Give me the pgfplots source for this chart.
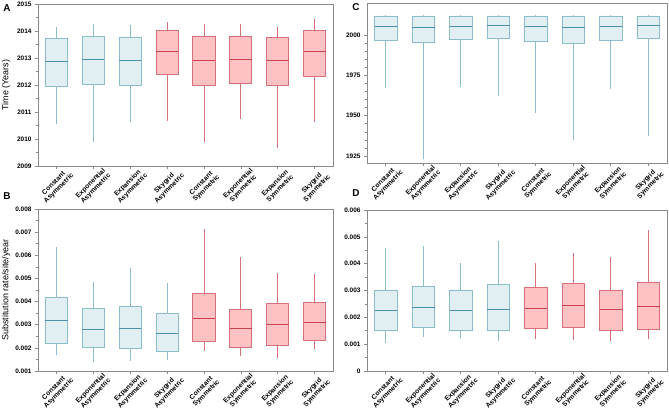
\documentclass[border=0pt]{standalone}
\usepackage{pgfplots}
\pgfplotsset{compat=1.18}
\usepackage{fontspec}
\setmainfont{Liberation Sans}
\definecolor{bfill}{HTML}{E1EEF2}
\definecolor{bedge}{HTML}{8BBCCB}
\definecolor{bmed}{HTML}{4A90A8}
\definecolor{rfill}{HTML}{FFC2C4}
\definecolor{redge}{HTML}{D8707A}
\definecolor{rmed}{HTML}{C84050}
\definecolor{axgray}{HTML}{8A8A8A}
\pgfplotsset{
  myax/.style={scale only axis, xmin=-0.5, xmax=7.5, no markers,
    xtick={0,...,7},
    xticklabels={Constant\\Asymmetric,Exponential\\Asymmetric,Expansion\\Asymmetric,Skygrid\\Asymmetric,Constant\\Symmetric,Exponential\\Symmetric,Expansion\\Symmetric,Skygrid\\Symmetric},
    xticklabel style={yshift=-17bp, rotate=45, anchor=center, align=center, font=\bfseries\fontsize{6.8}{7.2}\selectfont, inner sep=1pt},
    yticklabel style={font=\bfseries\fontsize{6.5}{7}\selectfont},
    /pgf/number format/assume math mode=true,
    axis line style={axgray, line width=0.7pt},
    tick style={axgray, line width=0.6pt},
    tick align=outside, major tick length=3bp, minor tick length=1.6bp,
    xtick pos=lower, ytick pos=left,
    scaled y ticks=false,
    ylabel style={font=\fontsize{9}{10}\selectfont, at={(axis description cs:-0.108,0.5)}, anchor=center},
  },
}
% #1 pos, #2 b/r, #3 lower whisker, #4 q1, #5 median, #6 q3, #7 upper whisker
\newcommand{\bx}[7]{%
  \pgfmathsetmacro\xl{#1-0.3}\pgfmathsetmacro\xr{#1+0.3}%
  \addplot[#2edge, line width=0.8pt, forget plot] coordinates {(#1,#3) (#1,#4)};
  \addplot[#2edge, line width=0.8pt, forget plot] coordinates {(#1,#6) (#1,#7)};
  \addplot[draw=#2edge, fill=#2fill, line width=0.8pt, line cap=rect, forget plot] coordinates {(\xl,#4) (\xr,#4) (\xr,#6) (\xl,#6) (\xl,#4)};
  \addplot[#2med, line width=1.1pt, forget plot] coordinates {(\xl,#5) (\xr,#5)};
}
\begin{document}
\begin{tikzpicture}
\path[use as bounding box] (0,0) rectangle (669bp,411bp);
% Panel A
\begin{axis}[myax, width=295bp, height=162bp, at={(38bp,245bp)}, anchor=south west,
  ymin=2009, ymax=2015, ytick={2009,2010,2011,2012,2013,2014,2015}, minor y tick num=1,
  yticklabel style={/pgf/number format/1000 sep={}},
  ylabel={Time (Years)}]
\bx{0}{b}{2010.54}{2011.96}{2012.88}{2013.73}{2014.16}
\bx{1}{b}{2009.90}{2012.02}{2012.95}{2013.81}{2014.26}
\bx{2}{b}{2010.63}{2011.98}{2012.91}{2013.76}{2014.21}
\bx{3}{r}{2010.67}{2012.39}{2013.24}{2014.02}{2014.33}
\bx{4}{r}{2009.88}{2011.97}{2012.91}{2013.80}{2014.26}
\bx{5}{r}{2010.74}{2012.05}{2012.95}{2013.80}{2014.26}
\bx{6}{r}{2009.67}{2011.98}{2012.91}{2013.76}{2014.13}
\bx{7}{r}{2010.63}{2012.33}{2013.24}{2014.01}{2014.43}
\end{axis}
% Panel C
\begin{axis}[myax, width=300bp, height=160bp, at={(367bp,248bp)}, anchor=south west,
  ymin=1920.7, ymax=2019.8, ytick={1925,1950,1975,2000}, minor y tick num=4,
  yticklabel style={/pgf/number format/1000 sep={}}]
\bx{0}{b}{1967.4}{1996.7}{2005.4}{2011.8}{2012.4}
\bx{1}{b}{1922.9}{1995.5}{2004.8}{2011.8}{2012.6}
\bx{2}{b}{1967.6}{1997.5}{2005.4}{2011.8}{2012.4}
\bx{3}{b}{1962.4}{1997.9}{2005.8}{2011.8}{2012.4}
\bx{4}{b}{1951.9}{1996.3}{2005.2}{2011.8}{2012.4}
\bx{5}{b}{1934.7}{1994.8}{2004.5}{2011.8}{2012.6}
\bx{6}{b}{1966.3}{1996.7}{2005.4}{2011.8}{2012.4}
\bx{7}{b}{1937.4}{1997.9}{2005.8}{2011.8}{2012.4}
\end{axis}
% Panel B
\begin{axis}[myax, width=295bp, height=162bp, at={(38bp,40bp)}, anchor=south west,
  ymin=0.001, ymax=0.008, ytick={0.001,0.002,0.003,0.004,0.005,0.006,0.007,0.008},
  yticklabels={0.001,0.002,0.003,0.004,0.005,0.006,0.007,0.008}, minor y tick num=1,
  ylabel={Substitution rate/site/year}]
\bx{0}{b}{0.00168}{0.00220}{0.00317}{0.00418}{0.00636}
\bx{1}{b}{0.00139}{0.00200}{0.00280}{0.00369}{0.00486}
\bx{2}{b}{0.00144}{0.00197}{0.00285}{0.00380}{0.00544}
\bx{3}{b}{0.00149}{0.00185}{0.00262}{0.00347}{0.00482}
\bx{4}{r}{0.00186}{0.00228}{0.00327}{0.00435}{0.00715}
\bx{5}{r}{0.00163}{0.00200}{0.00285}{0.00366}{0.00592}
\bx{6}{r}{0.00156}{0.00210}{0.00300}{0.00392}{0.00524}
\bx{7}{r}{0.00197}{0.00233}{0.00309}{0.00396}{0.00518}
\end{axis}
% Panel D
\begin{axis}[myax, width=300bp, height=161bp, at={(367bp,40bp)}, anchor=south west,
  ymin=0, ymax=0.006, ytick={0,0.001,0.002,0.003,0.004,0.005,0.006},
  yticklabels={0,0.001,0.002,0.003,0.004,0.005,0.006}, minor y tick num=1]
\bx{0}{b}{0.00104}{0.00150}{0.00225}{0.00302}{0.00459}
\bx{1}{b}{0.00128}{0.00163}{0.00237}{0.00316}{0.00467}
\bx{2}{b}{0.00123}{0.00152}{0.00225}{0.00302}{0.00402}
\bx{3}{b}{0.00113}{0.00150}{0.00230}{0.00322}{0.00485}
\bx{4}{r}{0.00118}{0.00158}{0.00234}{0.00311}{0.00402}
\bx{5}{r}{0.00116}{0.00164}{0.00243}{0.00325}{0.00441}
\bx{6}{r}{0.00112}{0.00150}{0.00228}{0.00302}{0.00426}
\bx{7}{r}{0.00118}{0.00154}{0.00240}{0.00332}{0.00525}
\end{axis}
\node[font=\bfseries\fontsize{10}{12}\selectfont] at (7bp,403bp) {A};
\node[font=\bfseries\fontsize{10}{12}\selectfont] at (7bp,215bp) {B};
\node[font=\bfseries\fontsize{10}{12}\selectfont] at (356bp,404bp) {C};
\node[font=\bfseries\fontsize{10}{12}\selectfont] at (356bp,218bp) {D};
\end{tikzpicture}
\end{document}
